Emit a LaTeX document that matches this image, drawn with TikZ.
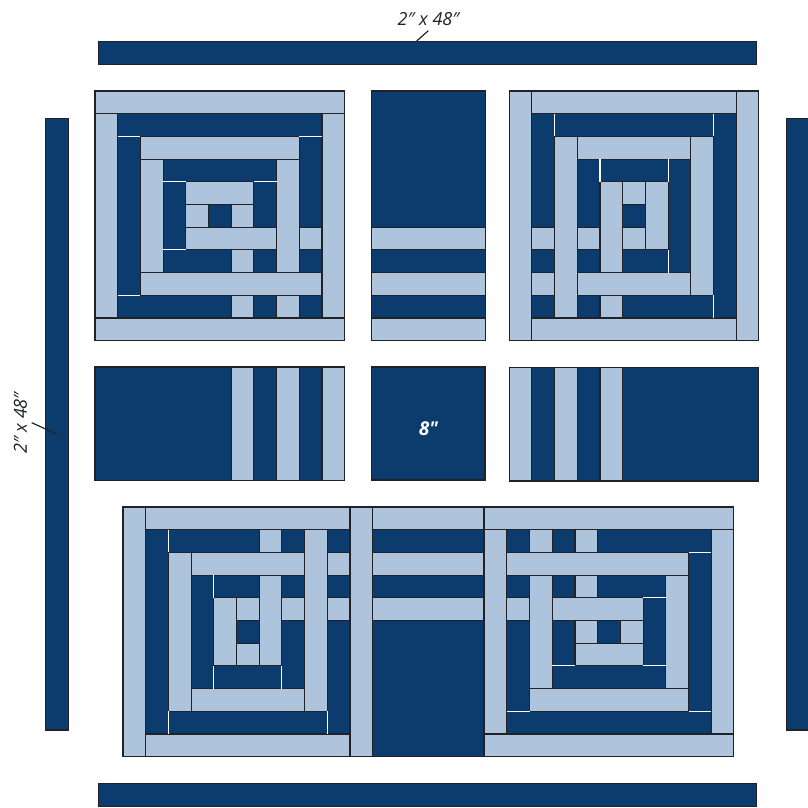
\documentclass[tikz,border=0pt]{standalone}
\usepackage{fontspec}
\setmainfont{Open Sans}
\definecolor{navy}{RGB}{11,60,109}
\definecolor{pale}{RGB}{174,195,220}
\definecolor{edge}{RGB}{32,34,40}
\tikzset{
  lightbar/.style={fill=pale,draw=edge,line width=1.1pt},
  darkbar/.style={fill=navy,draw=edge,line width=1.1pt},
  seam/.style={draw=white,line width=1.1pt},
  cellgrid/.style={x=22.7pt,y=-22.7pt},
  leader/.style={draw=edge,line width=1.2pt},
  dimlabel/.style={font=\fontsize{18}{20}\selectfont\itshape,text=edge,inner sep=0pt},
}
\begin{document}
\begin{tikzpicture}[x=1pt,y=-1pt]
\useasboundingbox (0,0) rectangle (808,807);
% border strips
\draw[darkbar] (98.8,41.2) rectangle (756.8,64.7);
\draw[darkbar] (98.3,783.2) rectangle (756.3,806.2);
\draw[darkbar] (45.8,118.2) rectangle (68.8,730);
\draw[darkbar] (786.8,118.2) rectangle (812,730);
\node[dimlabel] (toplabel) at (428.5,19) {2″ x 48″};
\node[dimlabel,rotate=90] (sidelabel) at (20.5,423) {2″ x 48″};
\coordinate (topa) at (428.3,30.7);
\coordinate (topb) at (416.7,41);
\coordinate (sidea) at (31.7,422.7);
\coordinate (sideb) at (56.7,434);
\draw[leader] (topa) -- (topb);
\draw[leader] (sidea) -- (sideb);
% top-left block
\begin{scope}[cellgrid,shift={(95pt,-91pt)}]
\draw[darkbar] (1,1) rectangle (10,10);
\foreach \a/\b/\c/\d in {0/0/11/1,0/10/11/11,0/1/1/10,10/1/11/10,
  2/2/9/3,2/3/3/8,8/3/9/8,2/8/10/9,6/9/7/10,8/9/9/10,9/6/10/7,
  4/4/7/5,4/5/5/6,6/5/7/6,4/6/8/7,6/7/7/8}
  \draw[lightbar] (\a,\b) rectangle (\c,\d);
\foreach \a/\b/\c/\d in {1/2/2/2,9/2/10/2,1/9/2/9,3/4/4/4,7/4/8/4,3/7/4/7}
  \draw[seam] (\a,\b) -- (\c,\d);
\end{scope}
% top-right block
\begin{scope}[cellgrid,shift={(509.2pt,-91pt)}]
\draw[darkbar] (1,1) rectangle (10,10);
\foreach \a/\b/\c/\d in {0/0/1/11,10/0/11/11,1/0/10/1,1/10/10/11,
  2/2/3/10,8/2/9/9,3/2/8/3,3/8/8/9,1/6/2/7,1/8/2/9,4/9/5/10,3/6/4/7,
  4/4/5/8,6/4/7/7,5/4/6/5,5/6/6/7}
  \draw[lightbar] (\a,\b) rectangle (\c,\d);
\foreach \a/\b/\c/\d in {2/1/2/2,9/1/9/2,9/9/9/10,4/3/4/4,7/3/7/4,7/7/7/8}
  \draw[seam] (\a,\b) -- (\c,\d);
\end{scope}
% top sash
\begin{scope}[cellgrid,shift={(371.8pt,-91pt)}]
\draw[darkbar] (0,0) rectangle (5,11);
\foreach \b in {6,8,10}
  \draw[lightbar] (0,\b) rectangle (5,\b+1);
\end{scope}
% middle row
\begin{scope}[cellgrid,shift={(95pt,-367pt)}]
\draw[darkbar] (0,0) rectangle (11,5);
\foreach \a in {6,8,10}
  \draw[lightbar] (\a,0) rectangle (\a+1,5);
\end{scope}
\draw[darkbar] (371.8,367) rectangle (485,480);
\node[font=\fontsize{19}{20}\selectfont\itshape\bfseries,text=white,inner sep=0pt] (centrelabel) at (428.5,429) {8″};
\begin{scope}[cellgrid,shift={(509.2pt,-367.5pt)}]
\draw[darkbar] (0,0) rectangle (11,5);
\foreach \a in {0,2,4}
  \draw[lightbar] (\a,0) rectangle (\a+1,5);
\end{scope}
% bottom-left block
\begin{scope}[cellgrid,shift={(123pt,-507pt)}]
\draw[darkbar] (1,1) rectangle (10,10);
\foreach \a/\b/\c/\d in {0/0/1/11,1/0/10/1,1/10/10/11,10/0/11/11,
  2/2/3/9,3/2/8/3,8/1/9/9,3/8/8/9,6/1/7/2,9/2/10/3,9/4/10/5,7/4/8/5,
  4/4/5/7,6/3/7/7,5/4/6/5,5/6/6/7}
  \draw[lightbar] (\a,\b) rectangle (\c,\d);
\foreach \a/\b/\c/\d in {2/1/2/2,2/9/2/10,9/9/9/10,4/3/4/4,4/7/4/8,7/7/7/8}
  \draw[seam] (\a,\b) -- (\c,\d);
\end{scope}
% bottom sash
\begin{scope}[cellgrid,shift={(372.7pt,-507pt)}]
\draw[darkbar] (0,0) rectangle (4.9,11);
\foreach \b in {0,2,4}
  \draw[lightbar] (0,\b) rectangle (4.9,\b+1);
\end{scope}
% bottom-right block
\begin{scope}[cellgrid,shift={(484.2pt,-507pt)}]
\draw[darkbar] (1,1) rectangle (10,10);
\foreach \a/\b/\c/\d in {0/0/11/1,0/10/11/11,0/1/1/10,10/1/11/10,
  1/2/9/3,2/3/3/8,8/3/9/8,2/8/9/9,2/1/3/2,4/1/5/2,1/4/2/5,4/3/5/4,
  3/4/7/5,4/5/5/6,6/5/7/6,4/6/7/7}
  \draw[lightbar] (\a,\b) rectangle (\c,\d);
\foreach \a/\b/\c/\d in {9/2/10/2,1/9/2/9,9/9/10/9,7/4/8/4,3/7/4/7,7/7/8/7}
  \draw[seam] (\a,\b) -- (\c,\d);
\end{scope}
\end{tikzpicture}
\end{document}
